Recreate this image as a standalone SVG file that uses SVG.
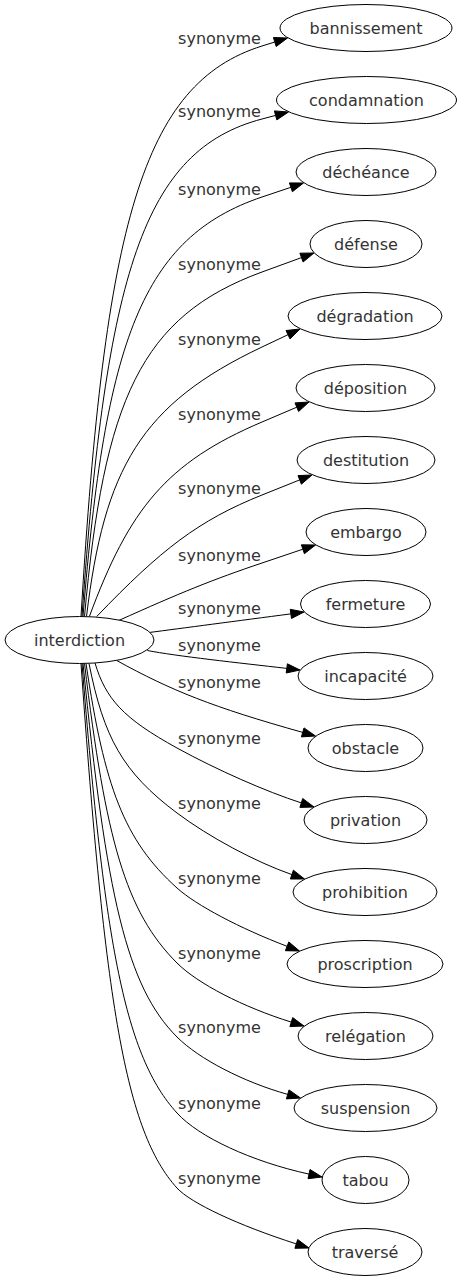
<svg xmlns="http://www.w3.org/2000/svg" width="459" height="1283" viewBox="0 0 459 1283">
<style>
.n ellipse{fill:#fff;stroke:#000;stroke-width:1}
text{font-family:"DejaVu Sans",sans-serif;font-size:16px;fill:#333}
.n text{text-anchor:middle}
.e path{fill:none;stroke:#000;stroke-width:1}
.e polygon{fill:#000;stroke:#000;stroke-width:1}
.l text{text-anchor:middle}
</style>
<rect width="459" height="1283" fill="#fff"/>
<g id="edges" class="e">
<path d="M81,616.5 C104.6,223.7 142.3,83.5 262,46 L274.8,42"/><polygon points="287.5,38 276.2,46.5 273.4,37.5"/>
<path d="M82,616.5 C106.1,272.5 143.6,150.2 262,119 L275.6,115.4"/><polygon points="288.5,112 276.8,119.9 274.4,110.9"/>
<path d="M83,616.5 C105.2,339.6 142.4,237.4 262,197 L290.9,187.3"/><polygon points="303.5,183 292.4,191.7 289.4,182.9"/>
<path d="M84.5,616.5 C104,399.6 140.8,316.3 262,272 L301.5,257.6"/><polygon points="314,253 303.1,262 299.9,253.2"/>
<path d="M86.5,616.5 C104.3,468.4 140.6,404.5 262,347 L288,334.7"/><polygon points="300,329 290,338.9 286,330.5"/>
<path d="M89.3,616.7 C129.3,508.7 166.4,462.6 262,422 L296.8,407.2"/><polygon points="309,402 298.6,411.5 295,402.9"/>
<path d="M96.7,616.5 C161.4,549.1 198.8,520.3 262,495 L299.7,479.9"/><polygon points="312,475 301.4,484.2 298,475.6"/>
<path d="M118.3,620.7 C180,592.9 212.9,579.5 262,563 L302.9,549.2"/><polygon points="315.5,545 304.4,553.7 301.4,544.8"/>
<path d="M150,632.4 C180,628.5 240,620.5 290.8,613.9"/><polygon points="304,612 291.5,618.5 290.2,609.3"/>
<path d="M147.5,650.5 C175,656 240,663 286.8,668.4"/><polygon points="300,670 286.2,673 287.4,663.8"/>
<path d="M116.7,660.5 C171.5,690.7 212.6,707.1 302.7,732.4"/><polygon points="315.5,736 301.4,736.9 304,727.9"/>
<path d="M95,663 C105.8,698.9 122.9,718.2 177,748 C216.5,769.7 266.1,791.6 301.3,802.9"/><polygon points="314,807 299.9,807.4 302.7,798.5"/>
<path d="M89,663.5 C103.7,737.2 122.3,772 177,813 C209.2,837.1 255.2,861.8 291.9,874.6"/><polygon points="304.5,879 290.4,879 293.4,870.2"/>
<path d="M86,663.5 C104.5,787.1 124,840.3 177,888 C196,905.1 240,928.4 287.1,946.3"/><polygon points="299.5,951 285.4,950.7 288.8,941.9"/>
<path d="M84.5,663.5 C105.7,839.9 125.5,911.5 177,963 C197.6,983.6 243.3,1007.2 291.3,1022.1"/><polygon points="304,1026 289.9,1026.6 292.7,1017.6"/>
<path d="M83,663.5 C106.3,896.4 126.7,986.7 177,1037 C199,1059 243.3,1081.9 287.7,1094.4"/><polygon points="300.5,1098 286.4,1098.9 289,1089.9"/>
<path d="M82,663.5 C104.7,947.2 125.3,1056.1 177,1113 C198.8,1137 251.6,1161.5 309,1174.1"/><polygon points="322,1177 308,1178.7 310,1169.5"/>
<path d="M81,663.5 C104.8,1004 125.6,1131.5 177,1188 C190.6,1203 238.3,1225.3 296.3,1243.9"/><polygon points="309,1248 294.9,1248.3 297.7,1239.5"/>
</g>
<g id="labels" class="l">
<text x="219.5" y="43.5">synonyme</text>
<text x="219.5" y="116.5">synonyme</text>
<text x="219.5" y="194.5">synonyme</text>
<text x="219.5" y="269.5">synonyme</text>
<text x="219.5" y="344.5">synonyme</text>
<text x="219.5" y="419.5">synonyme</text>
<text x="219.5" y="493.5">synonyme</text>
<text x="219.5" y="560.5">synonyme</text>
<text x="219.5" y="613.5">synonyme</text>
<text x="219.5" y="650.5">synonyme</text>
<text x="219.5" y="687.5">synonyme</text>
<text x="219.5" y="743.5">synonyme</text>
<text x="219.5" y="808.5">synonyme</text>
<text x="219.5" y="883.5">synonyme</text>
<text x="219.5" y="958.5">synonyme</text>
<text x="219.5" y="1032.5">synonyme</text>
<text x="219.5" y="1108.5">synonyme</text>
<text x="219.5" y="1183.5">synonyme</text>
</g>
<g id="interdiction" class="n"><ellipse cx="79.5" cy="640" rx="74.5" ry="23.5"/><text x="79.5" y="646">interdiction</text></g>
<g id="bannissement" class="n"><ellipse cx="366" cy="28" rx="86" ry="23.5"/><text x="366" y="34">bannissement</text></g>
<g id="condamnation" class="n"><ellipse cx="366.5" cy="100" rx="90" ry="23.5"/><text x="366.5" y="106">condamnation</text></g>
<g id="decheance" class="n"><ellipse cx="366" cy="172" rx="70" ry="23.5"/><text x="366" y="178">déchéance</text></g>
<g id="defense" class="n"><ellipse cx="366" cy="244" rx="56" ry="23.5"/><text x="366" y="250">défense</text></g>
<g id="degradation" class="n"><ellipse cx="365" cy="316" rx="77" ry="23.5"/><text x="365" y="322">dégradation</text></g>
<g id="deposition" class="n"><ellipse cx="365.5" cy="388" rx="69.5" ry="23.5"/><text x="365.5" y="394">déposition</text></g>
<g id="destitution" class="n"><ellipse cx="366" cy="460" rx="69" ry="23.5"/><text x="366" y="466">destitution</text></g>
<g id="embargo" class="n"><ellipse cx="366" cy="532" rx="60" ry="23.5"/><text x="366" y="538">embargo</text></g>
<g id="fermeture" class="n"><ellipse cx="365.5" cy="604" rx="65" ry="23.5"/><text x="365.5" y="610">fermeture</text></g>
<g id="incapacite" class="n"><ellipse cx="365.5" cy="676" rx="67.5" ry="23.5"/><text x="365.5" y="682">incapacité</text></g>
<g id="obstacle" class="n"><ellipse cx="365.5" cy="748" rx="57.5" ry="23.5"/><text x="365.5" y="754">obstacle</text></g>
<g id="privation" class="n"><ellipse cx="365.5" cy="820" rx="61.5" ry="23.5"/><text x="365.5" y="826">privation</text></g>
<g id="prohibition" class="n"><ellipse cx="365" cy="892" rx="72" ry="23.5"/><text x="365" y="898">prohibition</text></g>
<g id="proscription" class="n"><ellipse cx="365" cy="964" rx="78" ry="23.5"/><text x="365" y="970">proscription</text></g>
<g id="relegation" class="n"><ellipse cx="365.5" cy="1036" rx="67.5" ry="23.5"/><text x="365.5" y="1042">relégation</text></g>
<g id="suspension" class="n"><ellipse cx="365.5" cy="1108" rx="71.5" ry="23.5"/><text x="365.5" y="1114">suspension</text></g>
<g id="tabou" class="n"><ellipse cx="365.5" cy="1180" rx="43.5" ry="23.5"/><text x="365.5" y="1186">tabou</text></g>
<g id="traverse" class="n"><ellipse cx="365" cy="1252" rx="57" ry="23.5"/><text x="365" y="1258">traversé</text></g>
</svg>
